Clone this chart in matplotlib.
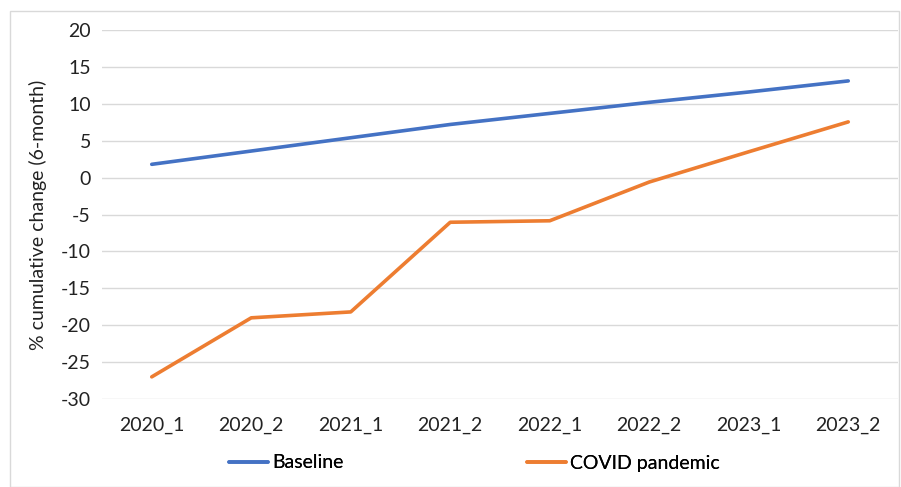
import matplotlib.pyplot as plt
from matplotlib.patches import Rectangle

# -- data --
periods = ["2020_1", "2020_2", "2021_1", "2021_2", "2022_1", "2022_2", "2023_1", "2023_2"]
baseline = [1.8, 3.6, 5.4, 7.2, 8.7, 10.2, 11.6, 13.1]
covid = [-27.0, -19.0, -18.2, -6.05, -5.85, -0.6, 3.5, 7.55]

blue = "#4472C4"
orange = "#ED7D31"

plt.rcParams["font.family"] = ["Lato", "DejaVu Sans"]
plt.rcParams["axes.unicode_minus"] = False

fig = plt.figure(figsize=(9.01, 4.87), dpi=100)
ax = fig.add_axes([102 / 901, 1 - 399 / 487, 796 / 901, 369 / 487])

x = list(range(len(periods)))
l1, = ax.plot(x, baseline, color=blue, lw=2.6, solid_capstyle="round")
l2, = ax.plot(x, covid, color=orange, lw=2.6, solid_capstyle="round")

ax.set_xlim(-0.5, len(periods) - 0.5)
ax.set_ylim(-30, 20)
ax.set_yticks(range(-30, 21, 5))
ax.set_xticks(x)
ax.set_xticklabels(periods)
ax.grid(axis="y", color="#D9D9D9", lw=1)
ax.set_axisbelow(True)
for s in ax.spines.values():
    s.set_visible(False)
ax.tick_params(length=0, labelsize=14, colors="#222222", pad=8)
ax.tick_params(axis="x", pad=13)
ax.set_ylabel("% cumulative change (6-month)", fontsize=14, color="#222222", labelpad=10)

# legend at the bottom, one entry each
leg_y = 1 - 463 / 487
for line, name, lx in [(l1, "Baseline", 229), (l2, "COVID pandemic", 527)]:
    lg = fig.legend([line], [name], loc="center left", bbox_to_anchor=(lx / 901, leg_y),
                    frameon=False, fontsize=14, handlelength=2.0, handletextpad=0.2,
                    borderpad=0, borderaxespad=0)
    fig.add_artist(lg)

# chart border
fig.patches.append(Rectangle((10 / 901, 0), 889 / 901, 1 - 11 / 487, transform=fig.transFigure,
                             fill=False, edgecolor="#D9D9D9", lw=1))

fig.savefig("out.png", dpi=100)
